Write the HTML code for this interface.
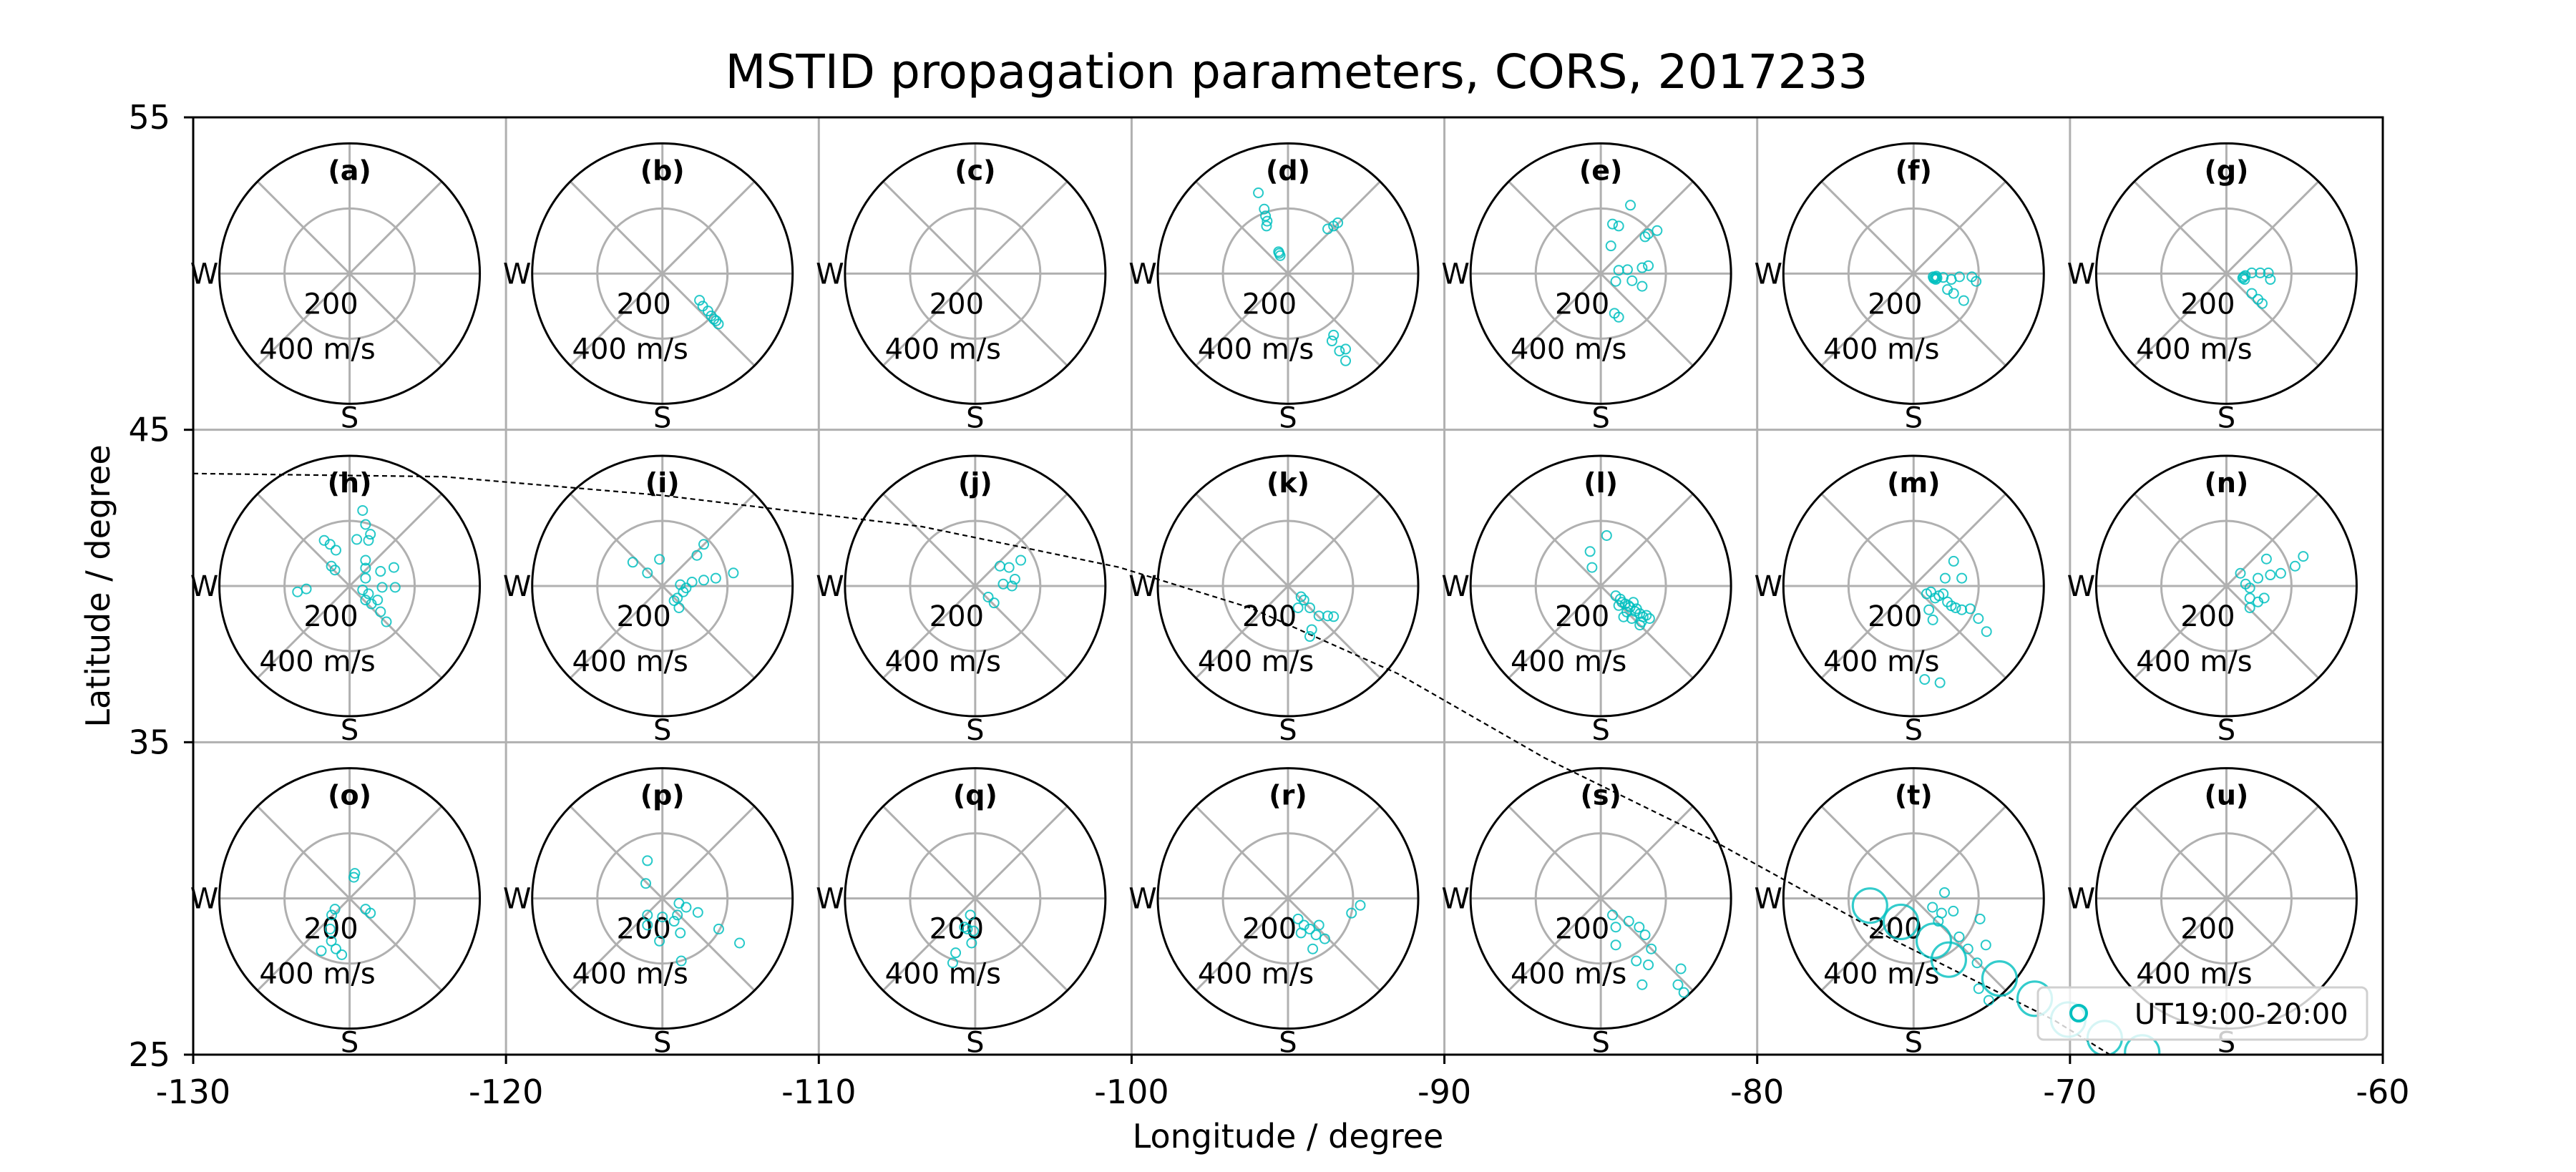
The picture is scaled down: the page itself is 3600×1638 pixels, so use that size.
<!DOCTYPE html>
<html><head><meta charset="utf-8"><style>
html,body{margin:0;padding:0;background:#fff;}
svg{display:block;font-family:"DejaVu Sans","Liberation Sans",sans-serif;}
</style></head><body>
<svg id="chart" width="3600" height="1638" viewBox="0 0 3600 1638" xmlns="http://www.w3.org/2000/svg">
<rect width="3600" height="1638" fill="#fff"/>
<text x="1812" y="123" font-size="66" text-anchor="middle">MSTID propagation parameters, CORS, 2017233</text>
<defs><clipPath id="axclip"><rect x="270" y="164" width="3060" height="1310"/></clipPath></defs>
<g id="grid"></g>
<g id="panels"></g>
<g id="tline" clip-path="url(#axclip)"></g>
<g id="pts" clip-path="url(#axclip)"></g>
<g id="axes"></g>
<g id="legend"></g>
<text x="1800" y="1604" font-size="46" text-anchor="middle">Longitude / degree</text>
<text transform="translate(153,819) rotate(-90)" font-size="46" text-anchor="middle">Latitude / degree</text>
</svg>
<script>
const xTicks = [-130,-120,-110,-100,-90,-80,-70,-60];
const yTicks = [25,35,45,55];
const panelLabels = ['a','b','c','d','e','f','g','h','i','j','k','l','m','n','o','p','q','r','s','t','u'];
const lineLon = [-130,-122,-115,-106.7,-100.4,-96.2,-91.5,-86.8,-81.5,-75.7,-70.5,-68.4];
const lineLat = [43.6,43.5,42.9,41.9,40.6,39.3,37.2,34.5,31.9,28.7,26.1,24.8];
const pA = [];
const pB = [[114,-82],[124,-100],[140,-115],[150,-130],[158,-140],[165,-145],[172,-155]];
const pC = [];
const pD = [[-91,248],[-73,198],[-69,177],[-64,161],[-66,146],[-29,67],[-24,55],[-27,62],[140,146],[122,137],[153,156],[140,-189],[158,-238],[177,-268],[135,-207],[177,-232]];
const pE = [[91,210],[36,152],[55,146],[31,85],[146,122],[173,132],[136,113],[55,10],[82,12],[127,18],[146,24],[46,-24],[96,-22],[127,-39],[42,-122],[55,-134]];
const pF = [[66,-12],[70,-8],[62,-15],[72,-14],[60,-10],[68,-18],[91,-12],[116,-18],[141,-10],[179,-10],[192,-24],[123,-61],[154,-83],[104,-49]];
const pG = [[53,-10],[58,-6],[50,-14],[56,-18],[78,2],[104,2],[129,2],[135,-18],[78,-61],[97,-79],[110,-92]];
const pH = [[40,232],[49,189],[64,159],[58,140],[22,143],[-78,140],[-60,128],[-42,110],[-56,61],[-45,49],[-160,-18],[-133,-9],[49,79],[49,55],[49,24],[95,45],[136,57],[100,-4],[140,-4],[58,-24],[49,-43],[67,-55],[95,-79],[113,-110],[40,-12],[86,-43]];
const pI = [[-91,73],[-46,40],[-9,82],[127,128],[106,94],[218,40],[55,4],[91,12],[127,18],[164,24],[64,-18],[46,-37],[36,-45],[51,-67],[73,-6]];
const pJ = [[76,61],[104,57],[140,79],[122,21],[86,6],[113,0],[40,-34],[58,-52]];
const pK = [[40,-33],[49,-43],[67,-67],[95,-92],[122,-92],[140,-94],[31,-67],[73,-134],[67,-155]];
const pL = [[18,155],[-33,106],[-27,57],[46,-30],[60,-40],[75,-55],[90,-65],[105,-78],[120,-85],[150,-100],[130,-95],[80,-80],[95,-100],[120,-120],[55,-60],[65,-50],[85,-60],[110,-70],[140,-90],[70,-95],[125,-110],[100,-50]];
const pM = [[123,76],[97,24],[148,24],[53,-18],[78,-30],[104,-49],[129,-67],[148,-73],[174,-70],[199,-100],[224,-140],[47,-73],[59,-104],[34,-287],[81,-297],[91,-24],[116,-61],[66,-37],[40,-24]];
const pN = [[123,83],[236,91],[211,61],[167,39],[135,34],[97,24],[43,39],[59,6],[72,-6],[72,-37],[116,-37],[72,-67],[97,-49]];
const pO = [[13,65],[16,77],[49,-33],[64,-45],[-45,-33],[-55,-51],[-60,-94],[-56,-131],[-42,-155],[-24,-173],[-87,-161]];
const pP = [[-46,116],[-51,46],[51,-15],[73,-27],[109,-43],[46,-51],[36,-70],[-46,-51],[-46,-82],[-9,-131],[58,-192],[173,-94],[237,-137],[55,-106],[0,-57]];
const pQ = [[-15,-51],[-24,-94],[-5,-100],[-11,-137],[-60,-167],[-69,-198],[-33,-88]];
const pR = [[31,-63],[49,-82],[67,-94],[86,-112],[113,-124],[76,-155],[40,-106],[195,-45],[222,-21],[95,-82]];
const pS = [[36,-51],[46,-88],[86,-70],[118,-88],[136,-112],[155,-155],[46,-143],[109,-192],[146,-204],[127,-265],[246,-216],[255,-289],[237,-265]];
const pT = [[95,18],[58,-27],[86,-45],[122,-39],[204,-63],[76,-70],[140,-118],[167,-155],[222,-143],[195,-198],[231,-313],[200,-277]];
const pTbig = [[-134,-22],[-39,-72],[62,-130],[108,-188],[264,-246],[372,-308],[475,-372],[587,-429],[702,-473]];
const pU = [];
const panelPts = [pA,pB,pC,pD,pE,pF,pG,pH,pI,pJ,pK,pL,pM,pN,pO,pP,pQ,pR,pS,pT,pU];

const NS='http://www.w3.org/2000/svg';
const X0=270,X1=3330,Y0=164,Y1=1474;
const xs=lon=>X0+(lon+130)/70*(X1-X0);
const ys=lat=>Y1-(lat-25)/30*(Y1-Y0);
const R=182, VMAX=400;
const vs=v=>v/VMAX*R;
function mk(tag,attrs,parent){const e=document.createElementNS(NS,tag);for(const k in attrs)e.setAttribute(k,attrs[k]);parent.appendChild(e);return e;}
const grid=document.getElementById('grid'),axes=document.getElementById('axes'),panels=document.getElementById('panels');
xTicks.forEach(t=>{
  const l=mk('line',{x1:xs(t),x2:xs(t),y1:Y0,y2:Y1,stroke:'#b0b0b0','stroke-width':3},grid);
  
  
  const tk=mk('line',{x1:xs(t),x2:xs(t),y1:Y1,y2:Y1+13,stroke:'#000','stroke-width':3},axes);
  
  
  const tx=mk('text',{x:xs(t),y:Y1+68,'font-size':46,'text-anchor':'middle'},axes);
  
  
  tx.textContent=t;
});
yTicks.forEach(t=>{
  const l=mk('line',{x1:X0,x2:X1,y1:ys(t),y2:ys(t),stroke:'#b0b0b0','stroke-width':3},grid);
  
  
  const tk=mk('line',{x1:X0-13,x2:X0,y1:ys(t),y2:ys(t),stroke:'#000','stroke-width':3},axes);
  
  
  const tx=mk('text',{x:X0-32,y:ys(t)+16,'font-size':46,'text-anchor':'end'},axes);
  
  
  tx.textContent=t;
});
const frame=mk('rect',{x:X0,y:Y0,width:X1-X0,height:Y1-Y0,fill:'none',stroke:'#000','stroke-width':3},axes);



panelLabels.forEach((lab,i)=>{
  const col=i%7,row=Math.floor(i/7);
  const cx=xs(-125+10*col),cy=ys(50-10*row);
  const g=mk('g',{},panels);
  
  
  mk('circle',{cx:cx,cy:cy,r:R,fill:'#fff',stroke:'none'},g);
  [0,45,90,135].forEach(a=>{const r=a*Math.PI/180;mk('line',{x1:cx-R*Math.cos(r),y1:cy-R*Math.sin(r),x2:cx+R*Math.cos(r),y2:cy+R*Math.sin(r),stroke:'#b0b0b0','stroke-width':3},g);});
  mk('circle',{cx:cx,cy:cy,r:vs(200),fill:'none',stroke:'#b0b0b0','stroke-width':3},g);
  mk('circle',{cx:cx,cy:cy,r:R,fill:'none',stroke:'#000','stroke-width':3},g);
  const t1=mk('text',{x:cx,y:cy-131,'font-size':38,'font-weight':'bold','text-anchor':'middle'},g);t1.textContent='('+lab+')';
  
  
  const tw=mk('text',{x:cx-203,y:cy+14,'font-size':40,'text-anchor':'middle'},g);tw.textContent='W';
  
  
  const ts=mk('text',{x:cx,y:cy+215,'font-size':40,'text-anchor':'middle'},g);ts.textContent='S';
  
  
  const t2=mk('text',{x:cx-26,y:cy+56,'font-size':40,'text-anchor':'middle'},g);t2.textContent='200';
  
  
  const t4=mk('text',{x:cx-45,y:cy+119,'font-size':40,'text-anchor':'middle'},g);t4.textContent='400 m/s';
  
  
});

const tl=document.getElementById('tline');
let d='';lineLon.forEach((lo,i)=>{d+=(i?'L':'M')+xs(lo).toFixed(1)+' '+ys(lineLat[i]).toFixed(1);});
const pth=mk('path',{d:d,fill:'none',stroke:'#000','stroke-width':2.2,'stroke-dasharray':'7 5'},tl);



const pg=document.getElementById('pts');
function drawPts(arr,i,rad,op){
  const col=i%7,row=Math.floor(i/7);
  const cx=xs(-125+10*col),cy=ys(50-10*row);
  arr.forEach(p=>{
    const c=mk('circle',{cx:cx+vs(p[0]),cy:cy-vs(p[1]),r:rad,fill:'none',stroke:'#00bfbf','stroke-width':rad>10?3.2:2,'stroke-opacity':op},pg);
    
    
  });
}
panelPts.forEach((arr,i)=>drawPts(arr,i,6.5,0.85));
drawPts(pTbig,19,24,0.8);

const lg=document.getElementById('legend');
const lb=mk('rect',{x:2848,y:1380,width:460,height:73,rx:8,fill:'#fff','fill-opacity':0.8,stroke:'#d0d0d0','stroke-width':3},lg);


const lm=mk('circle',{cx:2905,cy:1416,r:11,fill:'none',stroke:'#00bfbf','stroke-width':4},lg);


const lt=mk('text',{x:2983,y:1431,'font-size':40},lg);lt.textContent='UT19:00-20:00';


</script>
</body></html>
